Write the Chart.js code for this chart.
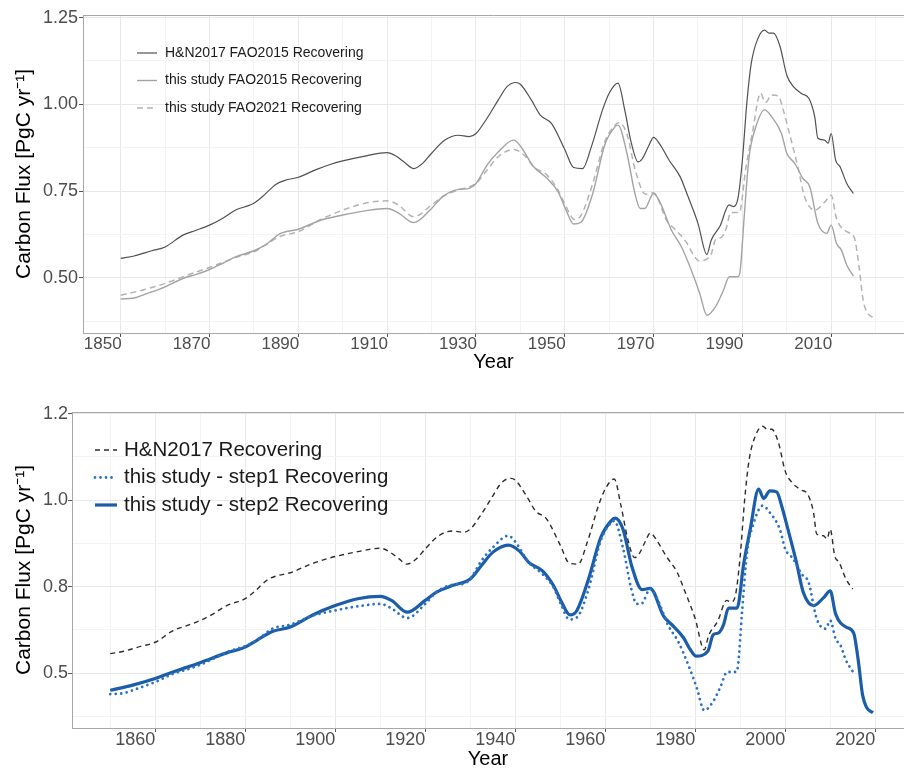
<!DOCTYPE html>
<html>

<head>
    <title>Recovering carbon flux</title>
    <script src="https://cdn.jsdelivr.net/npm/chart.js"></script>
    <style>
        body { margin: 0; background: #fff; }
        canvas { display: block; }
    </style>
</head>

<body>
<canvas id="topChart" width="904" height="380"></canvas>
<canvas id="bottomChart" width="904" height="389"></canvas>
<script>
    // H&N2017 recovering flux (PgC/yr)
    var hnYears = [1850, 1853, 1857, 1860, 1864, 1867, 1870, 1873, 1876, 1878, 1880, 1882, 1885, 1887, 1890, 1894, 1897, 1900, 1905, 1910,
        1912, 1914, 1916, 1918, 1920, 1923, 1926, 1928.5, 1930, 1932.5, 1935, 1937, 1939, 1940, 1942.5, 1944.5, 1947, 1950, 1952, 1954,
        1956, 1958.5, 1960, 1962, 1963.5, 1965, 1966.5, 1967.5, 1969, 1970, 1971.5, 1973.5, 1976, 1977.5, 1980, 1982, 1983, 1985, 1987, 1988,
        1989, 1990, 1991, 1992, 1993.5, 1995, 1996, 1997, 1998.5, 2000, 2001.5, 2003.5, 2005, 2006.3, 2007, 2008.5, 2009.3, 2010, 2011, 2012,
        2013.5, 2015];
    var hnFlux = [0.556, 0.563, 0.578, 0.589, 0.623, 0.637, 0.652, 0.672, 0.696, 0.705, 0.715, 0.735, 0.770, 0.781, 0.790, 0.812, 0.826, 0.837, 0.851, 0.861,
        0.851, 0.832, 0.815, 0.830, 0.859, 0.897, 0.911, 0.907, 0.916, 0.960, 1.012, 1.051, 1.063, 1.058, 1.012, 0.969, 0.945, 0.870, 0.818, 0.815,
        0.878, 0.984, 1.032, 1.061, 0.984, 0.888, 0.834, 0.844, 0.883, 0.905, 0.883, 0.839, 0.791, 0.743, 0.657, 0.567, 0.609, 0.650, 0.710, 0.705,
        0.729, 0.839, 1.003, 1.118, 1.190, 1.214, 1.205, 1.205, 1.166, 1.084, 1.051, 1.030, 1.017, 0.964, 0.902, 0.897, 0.888, 0.916, 0.839, 0.820,
        0.772, 0.743];

    // this study, FAO2015 (= step1)
    var fao15Years = [1850, 1853, 1856, 1860, 1864, 1867, 1870, 1873, 1876, 1880, 1882.5, 1886, 1890, 1895, 1900, 1905, 1910, 1912.5, 1916, 1920,
        1922.5, 1926, 1928.5, 1930, 1932.5, 1935, 1938.5, 1940, 1943, 1946, 1948.5, 1950.3, 1952, 1953.7, 1956.3, 1959, 1961.3, 1962, 1964, 1965.8,
        1967, 1968, 1970, 1971.4, 1974, 1976.3, 1978.5, 1980.4, 1982, 1984, 1985.6, 1987.1, 1989, 1989.5, 1990.4, 1991.5, 1993, 1995, 1996.6, 1998.8,
        2000, 2001.8, 2003.6, 2005.2, 2007, 2009, 2010, 2011.2, 2012.3, 2013.5, 2015];
    var fao15Flux = [0.439, 0.442, 0.455, 0.474, 0.498, 0.510, 0.524, 0.542, 0.561, 0.578, 0.594, 0.628, 0.640, 0.666, 0.681, 0.693, 0.700, 0.687, 0.659, 0.700,
        0.734, 0.755, 0.758, 0.772, 0.825, 0.863, 0.897, 0.880, 0.820, 0.787, 0.748, 0.695, 0.655, 0.661, 0.743, 0.883, 0.935, 0.940, 0.859, 0.743,
        0.700, 0.700, 0.743, 0.719, 0.638, 0.589, 0.522, 0.455, 0.392, 0.418, 0.460, 0.503, 0.503, 0.520, 0.674, 0.847, 0.934, 0.984, 0.964, 0.916,
        0.859, 0.830, 0.787, 0.762, 0.657, 0.628, 0.652, 0.599, 0.580, 0.537, 0.505];

    // this study, FAO2021 (= step2)
    var fao21Years = [1850, 1855, 1860, 1864.4, 1870, 1876, 1880, 1882.5, 1886, 1890, 1895, 1900, 1905, 1910, 1912.5, 1916, 1920, 1922.5, 1926, 1930,
        1932.5, 1935, 1938.5, 1941, 1943, 1946, 1948.5, 1950.3, 1952.2, 1953.7, 1956.3, 1959, 1961.3, 1962.2, 1964, 1965.9, 1968.2, 1970, 1973, 1974.8,
        1977.4, 1978.9, 1980.2, 1982.8, 1984, 1985.2, 1986.3, 1987.4, 1989.3, 1990.8, 1992.2, 1994.1, 1995.2, 1996.6, 1998.1, 1999.2, 2000.6, 2002.5, 2004, 2006.3,
        2008.6, 2010, 2011.2, 2013.5, 2015.2, 2016.2, 2017.2, 2018.1, 2019.5];
    var fao21Flux = [0.450, 0.465, 0.484, 0.505, 0.530, 0.559, 0.575, 0.594, 0.620, 0.633, 0.668, 0.695, 0.715, 0.722, 0.710, 0.676, 0.710, 0.734, 0.753, 0.772,
        0.811, 0.849, 0.870, 0.852, 0.820, 0.796, 0.753, 0.705, 0.668, 0.681, 0.772, 0.892, 0.940, 0.948, 0.914, 0.809, 0.741, 0.745, 0.664, 0.640,
        0.602, 0.568, 0.549, 0.563, 0.611, 0.616, 0.640, 0.688, 0.688, 0.818, 0.914, 1.032, 1.005, 1.027, 1.024, 0.984, 0.916, 0.820, 0.734, 0.695,
        0.719, 0.738, 0.671, 0.633, 0.616, 0.540, 0.436, 0.400, 0.385];

    // axes
    var gridYears = [1850, 1860, 1870, 1880, 1890, 1900, 1910, 1920, 1930, 1940, 1950, 1960, 1970, 1980, 1990, 2000, 2010, 2020];
    var topYearLabels = [1850, 1870, 1890, 1910, 1930, 1950, 1970, 1990, 2010];
    var bottomYearLabels = [1860, 1880, 1900, 1920, 1940, 1960, 1980, 2000, 2020];
    var gridFlux = [0.375, 0.5, 0.625, 0.75, 0.875, 1.0, 1.125, 1.25];
    var majorFlux = [0.5, 0.75, 1.0, 1.25];
    var topFluxLabels = ['0.50', '0.75', '1.00', '1.25'];
    var bottomFluxLabels = ['0.5', '0.8', '1.0', '1.2'];

    var FONT = '"Liberation Sans", Arial, sans-serif';

    function pts(xs, ys) {
        return xs.map(function (x, i) { return { x: x, y: ys[i] }; });
    }

    // legend inside the panel + top border of the panel
    var panelPlugin = {
        id: 'panel',
        afterDraw: function (chart, args, opts) {
            var ctx = chart.ctx, a = chart.chartArea;
            ctx.save();
            ctx.strokeStyle = '#a8a8a8';
            ctx.lineWidth = 1;
            ctx.beginPath();
            ctx.moveTo(a.left, Math.round(a.top) + 0.5);
            ctx.lineTo(a.right, Math.round(a.top) + 0.5);
            ctx.stroke();

            var y = opts.y;
            chart.data.datasets.forEach(function (ds) {
                ctx.strokeStyle = ds.borderColor;
                ctx.lineWidth = ds.borderWidth;
                ctx.lineCap = ds.borderCapStyle || 'butt';
                ctx.setLineDash(ds.borderDash || []);
                ctx.beginPath();
                ctx.moveTo(opts.x, y);
                ctx.lineTo(opts.x + opts.len, y);
                ctx.stroke();
                ctx.setLineDash([]);
                ctx.fillStyle = '#1a1a1a';
                ctx.font = opts.fontSize + 'px ' + FONT;
                ctx.textBaseline = 'middle';
                ctx.fillText(ds.label, opts.x + opts.len + opts.gap, y);
                y += opts.dy;
            });
            ctx.restore();
        }
    };

    function makeScales(cfg) {
        return {
            x: {
                type: 'linear',
                min: 1841.5,
                max: 2026.4,
                afterFit: function (scale) { scale.height = cfg.xHeight; },
                afterBuildTicks: function (scale) {
                    scale.ticks = gridYears.map(function (v) { return { value: v }; });
                },
                border: { display: true, color: '#a8a8a8', width: 1 },
                grid: {
                    color: function (c) {
                        return c.tick && cfg.yearLabels.indexOf(c.tick.value) >= 0 ? '#e8e8e8' : '#f3f3f3';
                    },
                    tickColor: function (c) {
                        return c.tick && cfg.yearLabels.indexOf(c.tick.value) >= 0 ? '#555555' : 'rgba(0,0,0,0)';
                    },
                    tickLength: 4
                },
                ticks: {
                    autoSkip: false,
                    maxRotation: 0,
                    padding: cfg.xPad,
                    labelOffset: cfg.labelOffset,
                    color: '#4d4d4d',
                    font: { family: FONT, size: cfg.xFont, lineHeight: 1 },
                    callback: function (v) { return cfg.yearLabels.indexOf(v) >= 0 ? String(v) : ''; }
                },
                title: {
                    display: true,
                    text: 'Year',
                    color: '#000',
                    font: { family: FONT, size: 20, lineHeight: 1.2 },
                    padding: { top: 0, bottom: cfg.yearPad }
                }
            },
            y: {
                min: cfg.yMin,
                max: cfg.yMax,
                afterFit: function (scale) { scale.width = cfg.yWidth; },
                afterBuildTicks: function (scale) {
                    scale.ticks = gridFlux.map(function (v) { return { value: v }; });
                },
                border: { display: true, color: '#a8a8a8', width: 1 },
                grid: {
                    color: function (c) {
                        return c.tick && majorFlux.indexOf(c.tick.value) >= 0 ? '#e8e8e8' : '#f3f3f3';
                    },
                    tickColor: function (c) {
                        return c.tick && majorFlux.indexOf(c.tick.value) >= 0 ? '#555555' : 'rgba(0,0,0,0)';
                    },
                    tickLength: 4
                },
                ticks: {
                    autoSkip: false,
                    padding: cfg.yPad,
                    color: '#4d4d4d',
                    font: { family: FONT, size: cfg.yFont },
                    callback: function (v) {
                        var i = majorFlux.indexOf(v);
                        return i >= 0 ? cfg.fluxLabels[i] : '';
                    }
                },
                title: {
                    display: true,
                    text: 'Carbon Flux [PgC yr\u207B\u00B9]',
                    color: '#000',
                    font: { family: FONT, size: 21, lineHeight: 1.2 },
                    padding: { top: 12, bottom: 0 }
                }
            }
        };
    }

    var lineBase = { pointRadius: 0, fill: false, cubicInterpolationMode: 'monotone' };

    new Chart(document.getElementById('topChart').getContext('2d'), {
        type: 'line',
        data: {
            datasets: [
                Object.assign({}, lineBase, {
                    label: 'H&N2017 FAO2015 Recovering',
                    data: pts(hnYears, hnFlux),
                    borderColor: '#505050',
                    borderWidth: 1.2
                }),
                Object.assign({}, lineBase, {
                    label: 'this study FAO2015 Recovering',
                    data: pts(fao15Years, fao15Flux),
                    borderColor: '#a3a3a3',
                    borderWidth: 1.4
                }),
                Object.assign({}, lineBase, {
                    label: 'this study FAO2021 Recovering',
                    data: pts(fao21Years, fao21Flux),
                    borderColor: '#b3b3b3',
                    borderWidth: 1.5,
                    borderDash: [6, 4]
                })
            ]
        },
        options: {
            responsive: false,
            animation: false,
            layout: { padding: { left: 0, right: 0, top: 15, bottom: 0 } },
            plugins: {
                legend: { display: false },
                tooltip: { enabled: false },
                panel: { x: 137, y: 53, dy: 27.5, len: 20, gap: 8, fontSize: 14 }
            },
            scales: makeScales({
                xHeight: 47, yWidth: 83, xPad: -1.5, yPad: 1, labelOffset: -18,
                xFont: 17, yFont: 18, yearPad: 6, yMin: 0.341, yMax: 1.2575,
                yearLabels: topYearLabels, fluxLabels: topFluxLabels
            })
        },
        plugins: [panelPlugin]
    });

    new Chart(document.getElementById('bottomChart').getContext('2d'), {
        type: 'line',
        data: {
            datasets: [
                Object.assign({}, lineBase, {
                    label: 'H&N2017 Recovering',
                    data: pts(hnYears, hnFlux),
                    borderColor: '#2b2b2b',
                    borderWidth: 1.4,
                    borderDash: [5, 4]
                }),
                Object.assign({}, lineBase, {
                    label: 'this study - step1 Recovering',
                    data: pts(fao15Years, fao15Flux),
                    borderColor: '#2a72c6',
                    borderWidth: 2.8,
                    borderDash: [0.01, 5.5],
                    borderCapStyle: 'round'
                }),
                Object.assign({}, lineBase, {
                    label: 'this study - step2 Recovering',
                    data: pts(fao21Years, fao21Flux),
                    borderColor: '#1b5da8',
                    borderWidth: 3.2
                })
            ]
        },
        options: {
            responsive: false,
            animation: false,
            layout: { padding: { left: 0, right: 0, top: 32, bottom: 0 } },
            plugins: {
                legend: { display: false },
                tooltip: { enabled: false },
                panel: { x: 95, y: 70, dy: 27.5, len: 22, gap: 7, fontSize: 20.5 }
            },
            scales: makeScales({
                xHeight: 41, yWidth: 72, xPad: -1, yPad: 0, labelOffset: -20,
                xFont: 18, yFont: 18, yearPad: -2, yMin: 0.341, yMax: 1.255,
                yearLabels: bottomYearLabels, fluxLabels: bottomFluxLabels
            })
        },
        plugins: [panelPlugin]
    });
</script>
</body>

</html>
